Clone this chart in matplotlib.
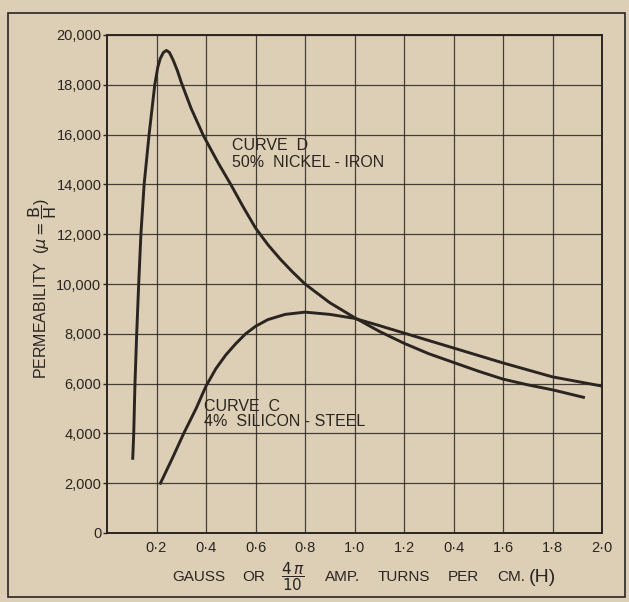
import matplotlib
matplotlib.use("Agg")
import matplotlib.pyplot as plt
from matplotlib.patches import Rectangle

# --- data ---
curve_d_h = [0.104, 0.108, 0.113, 0.120, 0.128, 0.137, 0.150, 0.170, 0.193, 0.205,
             0.215, 0.228, 0.240, 0.252, 0.267, 0.285, 0.300, 0.340, 0.390, 0.450,
             0.500, 0.550, 0.600, 0.650, 0.700, 0.750, 0.800, 0.900, 1.000, 1.100,
             1.200, 1.300, 1.400, 1.500, 1.600, 1.700, 1.800, 1.925]
curve_d_mu = [3000, 4000, 6000, 8000, 10000, 12000, 14000, 16000, 18000, 18700,
              19050, 19300, 19380, 19300, 19000, 18550, 18100, 17050, 15950, 14850,
              14000, 13100, 12250, 11580, 11000, 10480, 10000, 9250, 8650, 8100,
              7620, 7200, 6850, 6500, 6180, 5950, 5750, 5450]

curve_c_h = [0.216, 0.264, 0.310, 0.360, 0.400, 0.440, 0.480, 0.520, 0.560, 0.600,
             0.650, 0.720, 0.800, 0.900, 1.000, 1.100, 1.200, 1.400, 1.600, 1.800,
             2.000]
curve_c_mu = [2000, 3000, 4000, 5000, 5900, 6600, 7150, 7600, 8000, 8300,
              8570, 8780, 8870, 8780, 8620, 8330, 8030, 7430, 6830, 6270,
              5900]

x_ticks = [0.2, 0.4, 0.6, 0.8, 1.0, 1.2, 1.4, 1.6, 1.8, 2.0]
x_tick_labels = ["0·2", "0·4", "0·6", "0·8", "1·0", "1·2", "0·4", "1·6", "1·8", "2·0"]
y_ticks = [0, 2000, 4000, 6000, 8000, 10000, 12000, 14000, 16000, 18000, 20000]
y_tick_labels = ["0", "2,000", "4,000", "6,000", "8,000", "10,000", "12,000",
                 "14,000", "16,000", "18,000", "20,000"]

# x axis title, word by word (left edge in pixels)
x_title_words = ["GAUSS", "OR", r"$\dfrac{4\,\pi}{10}$", "AMP.", "TURNS", "PER", "CM."]
x_title_left = [172, 242, 281, 325, 378, 448, 497]

paper = "#dccfb5"
ink = "#2b2521"

plt.rcParams["font.family"] = ["Liberation Sans", "DejaVu Sans"]

fig = plt.figure(figsize=(6.29, 6.02), dpi=100, facecolor=paper)
ax = fig.add_axes([107 / 629, 69 / 602, 495 / 629, 498 / 602])
ax.set_facecolor(paper)

# outer frame round the whole figure
fig.patches.append(Rectangle((8 / 629, 5 / 602), 617 / 629, 584 / 602,
                             transform=fig.transFigure, fill=False,
                             edgecolor=ink, linewidth=1.2))

ax.plot(curve_d_h, curve_d_mu, color=ink, linewidth=2.1, zorder=3)
ax.plot(curve_c_h, curve_c_mu, color=ink, linewidth=2.1, zorder=3)

ax.set_xlim(0, 2.0)
ax.set_ylim(0, 20000)
ax.set_xticks(x_ticks)
ax.set_xticklabels(x_tick_labels)
ax.set_yticks(y_ticks)
ax.set_yticklabels(y_tick_labels)
ax.tick_params(axis="x", length=0, pad=6, labelsize=10.5, colors=ink)
ax.tick_params(axis="y", length=3, width=1, pad=1, labelsize=10.5, colors=ink)
ax.grid(True, color=ink, linewidth=0.9, alpha=0.85)
for s in ax.spines.values():
    s.set_color(ink)
    s.set_linewidth(1.4)

ax.text(0.505, 15850, "CURVE  D\n50%  NICKEL - IRON", fontsize=11.5,
        color=ink, va="top", ha="left", linespacing=1.1)
ax.text(0.39, 5400, "CURVE  C\n4%  SILICON - STEEL", fontsize=11.5,
        color=ink, va="top", ha="left", linespacing=1.05)

fig.text(43 / 629, 1 - 289 / 602,
         r"PERMEABILITY  ($\mu=\dfrac{\mathrm{B}}{\mathrm{H}}$)",
         rotation=90, ha="center", va="center", fontsize=11.5, color=ink)
for word, left in zip(x_title_words, x_title_left):
    fig.text(left / 629, 1 - 577 / 602, word,
             ha="left", va="center", fontsize=11, color=ink)
fig.text(529 / 629, 1 - 577 / 602, "(H)",
         ha="left", va="center", fontsize=14, color=ink)

fig.savefig("out.png", dpi=100, facecolor=paper)
